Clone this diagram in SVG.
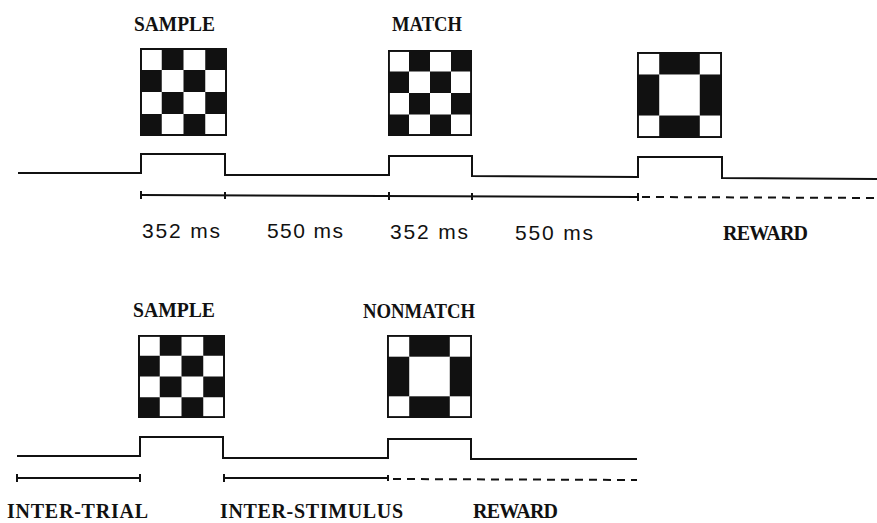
<svg xmlns="http://www.w3.org/2000/svg" width="877" height="523" viewBox="0 0 877 523">
<style>
.sig{fill:none;stroke:#111;stroke-width:2;stroke-linejoin:miter}
.tl{fill:none;stroke:#111;stroke-width:2}
.dash{fill:none;stroke:#111;stroke-width:2;stroke-dasharray:8 6}
.tick{stroke:#111;stroke-width:2}
.lab{font-family:"Liberation Serif","Times New Roman",serif;font-weight:bold;font-size:20px;fill:#111}
.ms{font-family:"Liberation Sans",Arial,sans-serif;font-size:21px;fill:#111}
.box{fill:#fff;stroke:#111;stroke-width:2}
.blk{fill:#111}
</style>
<defs>
<symbol id="checker" viewBox="0 0 88 88" preserveAspectRatio="none">
<rect class="box" x="1" y="1" width="86" height="86"/>
<rect class="blk" x="22" y="1" width="22" height="21"/>
<rect class="blk" x="66" y="1" width="21" height="21"/>
<rect class="blk" x="1" y="22" width="21" height="22"/>
<rect class="blk" x="44" y="22" width="22" height="22"/>
<rect class="blk" x="22" y="44" width="22" height="22"/>
<rect class="blk" x="66" y="44" width="21" height="22"/>
<rect class="blk" x="1" y="66" width="21" height="21"/>
<rect class="blk" x="44" y="66" width="22" height="21"/>
</symbol>
<symbol id="ring" viewBox="0 0 88 88" preserveAspectRatio="none">
<rect class="box" x="1" y="1" width="86" height="86"/>
<rect class="blk" x="23" y="1" width="42" height="22"/>
<rect class="blk" x="23" y="65" width="42" height="22"/>
<rect class="blk" x="1" y="23" width="22" height="42"/>
<rect class="blk" x="65" y="23" width="22" height="42"/>
</symbol>
</defs>
<rect width="877" height="523" fill="#fff"/>

<g id="connectors">
<polyline class="sig" points="18,173 141,173 141,154 225,154 225,175 389,175 389,156 472,156 472,176 638,177 638,157 722,157 722,178 877,179"/>
<line class="tl" x1="141" y1="195" x2="638" y2="197"/>
<line class="dash" x1="642" y1="197" x2="877" y2="198"/>
<line class="tick" x1="141" y1="191" x2="141" y2="199"/>
<line class="tick" x1="225" y1="192" x2="225" y2="199"/>
<line class="tick" x1="389" y1="192" x2="389" y2="200"/>
<line class="tick" x1="472" y1="193" x2="472" y2="200"/>
<line class="tick" x1="638" y1="193" x2="638" y2="201"/>

<polyline class="sig" points="17,456 140,456 140,437 223,437 223,458 388,458 388,439 471,439 471,459 637,459"/>
<line class="tl" x1="17" y1="478" x2="140" y2="478"/>
<line class="tick" x1="17" y1="474" x2="17" y2="482"/>
<line class="tick" x1="140" y1="474" x2="140" y2="482"/>
<line class="tl" x1="224" y1="478" x2="388" y2="478"/>
<line class="tick" x1="224" y1="474" x2="224" y2="482"/>
<line class="tick" x1="388" y1="475" x2="388" y2="481"/>
<line class="dash" x1="393" y1="479" x2="637" y2="480"/>
</g>

<g id="sample-top">
<text class="lab" x="134" y="31" textLength="81" lengthAdjust="spacingAndGlyphs">SAMPLE</text>
<use href="#checker" x="140" y="48" width="87" height="88"/>
</g>
<g id="match-top">
<text class="lab" x="392" y="31" textLength="70" lengthAdjust="spacingAndGlyphs">MATCH</text>
<use href="#checker" x="388" y="50" width="84" height="86"/>
</g>
<g id="nonmatch-top">
<use href="#ring" x="637" y="52" width="85" height="86"/>
</g>
<g id="labels-top">
<text class="ms" x="142" y="238" textLength="78">352 ms</text>
<text class="ms" x="267" y="238" textLength="76">550 ms</text>
<text class="ms" x="390" y="239" textLength="78">352 ms</text>
<text class="ms" x="515" y="240" textLength="78">550 ms</text>
<text class="lab" x="723" y="240" textLength="85">REWARD</text>
</g>

<g id="sample-bottom">
<text class="lab" x="133" y="317" textLength="82" lengthAdjust="spacingAndGlyphs">SAMPLE</text>
<use href="#checker" x="138" y="335" width="87" height="83"/>
</g>
<g id="nonmatch-bottom">
<text class="lab" x="363" y="318" textLength="112" lengthAdjust="spacingAndGlyphs">NONMATCH</text>
<use href="#ring" x="387" y="335" width="85" height="83"/>
</g>
<g id="labels-bottom">
<text class="lab" x="7" y="518" textLength="141">INTER-TRIAL</text>
<text class="lab" x="220" y="518" textLength="183">INTER-STIMULUS</text>
<text class="lab" x="473" y="518" textLength="85">REWARD</text>
</g>
</svg>
